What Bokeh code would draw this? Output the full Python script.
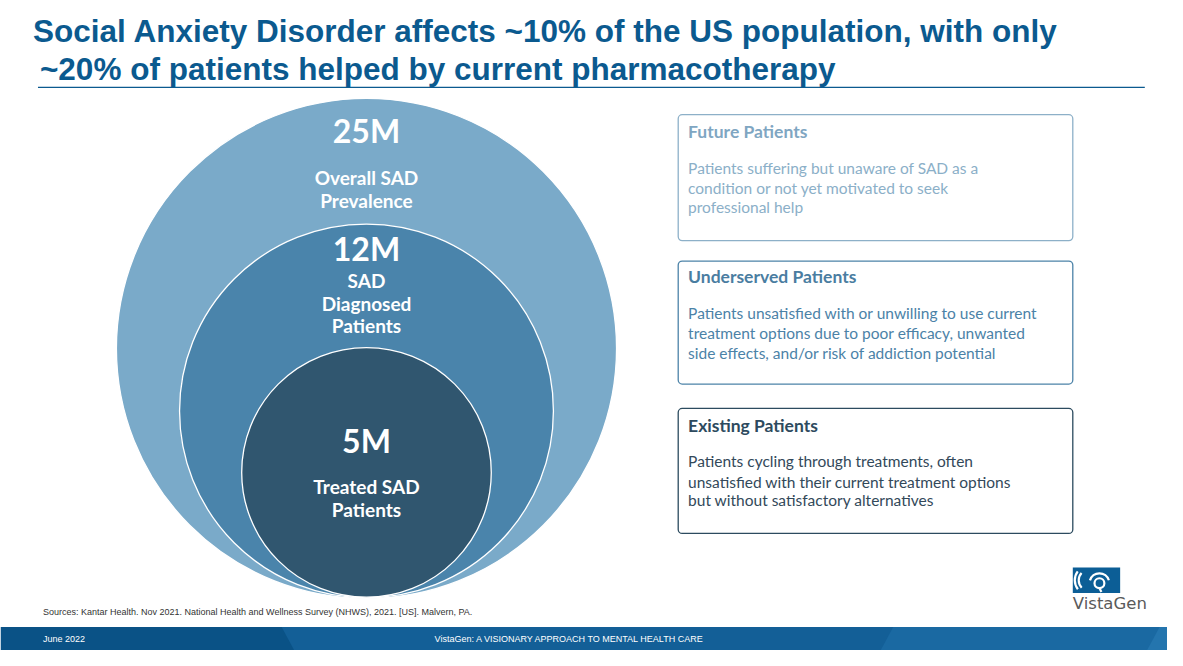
from bokeh.plotting import figure
from bokeh.models import Range1d, BoxAnnotation
from bokeh.core.properties import value
from bokeh.embed import file_html
from bokeh.resources import INLINE

# ---------------- data ----------------
title_lines = ["Social Anxiety Disorder affects ~10% of the US population, with only",
               "~20% of patients helped by current pharmacotherapy"]
circle_values = ["25M", "12M", "5M"]
circle_labels = [["Overall SAD", "Prevalence"],
                 ["SAD", "Diagnosed", "Patients"],
                 ["Treated SAD", "Patients"]]
box_titles = ["Future Patients", "Underserved Patients", "Existing Patients"]
box_texts = [["Patients suffering but unaware of SAD as a",
              "condition or not yet motivated to seek",
              "professional help"],
             ["Patients unsatisfied with or unwilling to use current",
              "treatment options due to poor efficacy, unwanted",
              "side effects, and/or risk of addiction potential"],
             ["Patients cycling through treatments, often",
              "unsatisfied with their current treatment options",
              "but without satisfactory alternatives"]]
source_text = "Sources: Kantar Health. Nov 2021. National Health and Wellness Survey (NHWS), 2021. [US]. Malvern, PA."
footer_left = "June 2022"
footer_mid = "VistaGen: A VISIONARY APPROACH TO MENTAL HEALTH CARE"
logo_text = "VistaGen"

# ---------------- layout / style ----------------
W, H = 1167, 650
p = figure(width=W, height=H, output_backend="svg", toolbar_location=None,
           x_range=Range1d(0, 1183), y_range=Range1d(666, 0),
           min_border=0, outline_line_color=None, background_fill_color="white",
           border_fill_color="white")
p.axis.visible = False
p.grid.visible = False

TITLE_C = "#0B5A8F"
# title
p.text(x=[33], y=[31], text=[title_lines[0]], text_font=value("Liberation Sans"),
       text_font_style="bold", text_font_size="31.5px", text_color=TITLE_C,
       text_baseline="middle", text_align="left")
p.text(x=[40], y=[70], text=[title_lines[1]], text_font=value("Liberation Sans"),
       text_font_style="bold", text_font_size="31.5px", text_color=TITLE_C,
       text_baseline="middle", text_align="left")
p.line(x=[38, 1160], y=[89, 89], line_color="#0B5A8F", line_width=1.2)

# circles
cx = 371
circ_cy = [356.5, 420.5, 483.5]
circ_r = [253.5, 189.5, 126.5]
circ_col = ["#7AAAC9", "#4A84AB", "#30566F"]
for cy, r, c in zip(circ_cy, circ_r, circ_col):
    p.circle(x=[cx], y=[cy], radius=r, fill_color=c, line_color="white", line_width=1.3)

num_y = [133, 254, 451]
lab_y = [[181, 205], [287, 310, 333], [498, 522]]
for v, ny, labs, ly in zip(circle_values, num_y, circle_labels, lab_y):
    p.text(x=[cx], y=[ny], text=[v], text_font=value("Lato"), text_font_style="bold",
           text_font_size="32px",
           text_color="white", text_align="center", text_baseline="middle")
    p.text(x=[cx] * len(labs), y=ly, text=labs, text_font=value("Lato"),
           text_font_style="bold", text_font_size="19px", text_color="white",
           text_align="center", text_baseline="middle")

# boxes
box_top = [117, 267, 418]
box_bot = [246, 393, 546]
border_col = ["#8DB0C8", "#4C83A8", "#2C4B5F"]
head_col = ["#7FA6C2", "#4A7DA1", "#2D4A5E"]
body_col = ["#8BAFC8", "#4B82A7", "#33495A"]
head_y = [134, 283, 435]
body_y = [[172, 192, 212], [320, 341, 361], [472, 493, 512]]
for i in range(3):
    p.add_layout(BoxAnnotation(left=687, right=1087, top=box_top[i], bottom=box_bot[i],
                               fill_color="white", fill_alpha=1.0,
                               line_color=border_col[i], line_alpha=1.0, line_width=1.3,
                               border_radius=4, level="underlay"))
    p.text(x=[697], y=[head_y[i]], text=[box_titles[i]], text_font=value("Lato"),
           text_font_style="bold", text_font_size="17.5px", text_color=head_col[i],
           text_baseline="middle")
    p.text(x=[697] * 3, y=body_y[i], text=box_texts[i], text_font=value("Lato"),
           text_font_size="15.5px", text_color=body_col[i], text_baseline="middle")

# sources
p.text(x=[43], y=[627], text=[source_text], text_font=value("Liberation Sans"),
       text_font_size="9px", text_color="#333333", text_baseline="middle")

# footer bar
p.quad(left=0, right=1190, top=642, bottom=670, fill_color="#0A5286", line_color=None)
p.patch(x=[285, 1190, 1190, 300], y=[642, 642, 670, 670], fill_color="#135F97", line_color=None)
p.patch(x=[905, 1190, 1190, 890], y=[642, 642, 670, 670], fill_color="#1A69A2", line_color=None)
p.patch(x=[1175, 1190, 1190, 1160], y=[642, 642, 670, 670], fill_color="#2475AE", line_color=None)
p.text(x=[43], y=[654], text=[footer_left], text_font=value("Liberation Sans"),
       text_font_size="9px", text_color="white", text_baseline="middle")
p.text(x=[440], y=[654], text=[footer_mid], text_font=value("Liberation Sans"),
       text_font_size="9px", text_color="white", text_baseline="middle")

# logo
p.quad(left=1087, right=1135, top=581, bottom=607, fill_color="#0C5E96", line_color=None)
# left brackets
p.arc(x=[1104, 1104], y=[594, 594], radius=[11, 15],
      start_angle=[2.4, 2.5], end_angle=[3.9, 3.8], line_color="white", line_width=2.2)
# Q ring and outer arc
p.circle(x=[1114], y=[597], radius=5, fill_color=None, line_color="white", line_width=2.2)
p.arc(x=[1114], y=[597], radius=[10], start_angle=[0.3], end_angle=[2.85],
      line_color="white", line_width=2.2)
p.segment(x0=[1114], y0=[602], x1=[1116], y1=[606], line_color="white", line_width=2.2)
p.text(x=[1087], y=[618], text=[logo_text], text_font=value("DejaVu Sans"),
       text_font_size="16.5px", text_color="#5A5A5A", text_baseline="middle")

open("out.html", "w").write(file_html(p, INLINE))
